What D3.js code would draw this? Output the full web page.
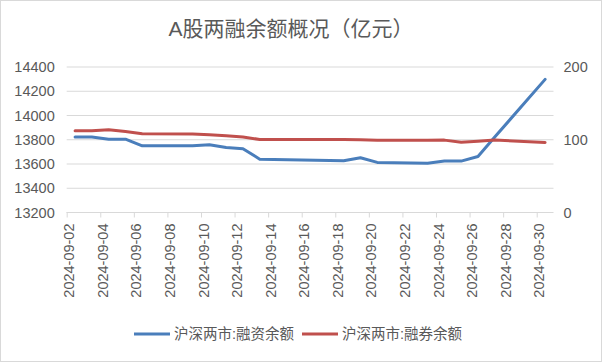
<!DOCTYPE html>
<html>
<head>
<meta charset="utf-8">
<script src="https://cdn.jsdelivr.net/npm/d3@7"></script>
<style>
  html, body { margin: 0; padding: 0; background: #fff; }
  svg { display: block; }
  text { font-family: "Liberation Sans", "Noto Sans CJK SC", sans-serif; fill: #595959; }
</style>
</head>
<body>
<svg id="chart" width="602" height="362"></svg>
<script>
const title = "A股两融余额概况（亿元）";
const dates = ["2024-09-02","2024-09-03","2024-09-04","2024-09-05","2024-09-06",
  "2024-09-09","2024-09-10","2024-09-11","2024-09-12","2024-09-13",
  "2024-09-18","2024-09-19","2024-09-20","2024-09-23","2024-09-24",
  "2024-09-25","2024-09-26","2024-09-27","2024-09-30"];
const financing = [13822,13822,13805,13805,13750,13750,13758,13736,13726,13640,
  13626,13652,13613,13607,13624,13624,13662,13822,14298];
const securities = [112.4,112.4,113.7,111.2,108.3,107.8,106.9,105.5,103.7,100.4,
  100.4,100.0,99.4,99.4,99.5,96.5,98.0,99.6,96.3];
const leftTicks = [13200,13400,13600,13800,14000,14200,14400];
const rightTicks = [0,100,200];
const tickDates = ["2024-09-02","2024-09-04","2024-09-06","2024-09-08","2024-09-10",
  "2024-09-12","2024-09-14","2024-09-16","2024-09-18","2024-09-20","2024-09-22",
  "2024-09-24","2024-09-26","2024-09-28","2024-09-30"];
const seriesNames = ["沪深两市:融资余额","沪深两市:融券余额"];
const colors = ["#4a7ebb","#c0504d"];

const parse = d3.utcParse("%Y-%m-%d");
const svg = d3.select("#chart");

// outer border
svg.append("rect").attr("x",0.5).attr("y",0.5).attr("width",601).attr("height",361)
  .attr("fill","#fff").attr("stroke","#d9d9d9");

const x = d3.scaleUtc()
  .domain([parse("2024-09-02"), parse("2024-10-01")])
  .range([66.7, 553.5]);
const yL = d3.scaleLinear().domain([13200,14400]).range([212.5, 67]);
const yR = d3.scaleLinear().domain([0,200]).range([212.5, 67]);
const halfDay = 12*3600*1000;
const px = d => x(new Date(parse(d).getTime() + halfDay));

// gridlines
svg.append("g").selectAll("line").data(leftTicks.slice(1)).join("line")
  .attr("x1",66.7).attr("x2",553.5)
  .attr("y1",d=>yL(d)).attr("y2",d=>yL(d))
  .attr("stroke","#d9d9d9").attr("stroke-width",1);

// x axis
const xAxis = d3.axisBottom(x)
  .tickValues(tickDates.map(parse))
  .tickSize(5)
  .tickFormat(d3.utcFormat("%Y-%m-%d"));
const gx = svg.append("g").attr("transform","translate(0,212.5)").call(xAxis);
gx.select(".domain").attr("stroke","#d9d9d9").attr("d","M66.7,0.5V0H553.5");
gx.selectAll(".tick line").attr("stroke","#d9d9d9");
gx.selectAll(".tick text")
  .attr("transform","rotate(-90)")
  .attr("text-anchor","end")
  .attr("x",-11).attr("y",2).attr("dy","0.35em")
  .style("font-size","14.5px").attr("fill","#595959");
gx.attr("font-family",null).attr("font-size",null);

// left axis
const gl = svg.append("g").attr("transform","translate(66.7,0)")
  .call(d3.axisLeft(yL).tickValues(leftTicks).tickSize(0).tickPadding(12).tickFormat(d3.format("d")));
gl.select(".domain").remove();
gl.selectAll("text").style("font-size","14.5px").attr("fill","#595959");
gl.attr("font-family",null).attr("font-size",null);

// right axis
const gr = svg.append("g").attr("transform","translate(553.5,0)")
  .call(d3.axisRight(yR).tickValues(rightTicks).tickSize(0).tickPadding(10).tickFormat(d3.format("d")));
gr.select(".domain").remove();
gr.selectAll("text").style("font-size","14.5px").attr("fill","#595959");
gr.attr("font-family",null).attr("font-size",null);

// lines
const lineL = d3.line().x((d,i)=>px(dates[i])).y(d=>yL(d));
const lineR = d3.line().x((d,i)=>px(dates[i])).y(d=>yR(d));
svg.append("path").datum(financing).attr("d",lineL)
  .attr("fill","none").attr("stroke",colors[0]).attr("stroke-width",3)
  .attr("stroke-linejoin","round").attr("stroke-linecap","round");
svg.append("path").datum(securities).attr("d",lineR)
  .attr("fill","none").attr("stroke",colors[1]).attr("stroke-width",3)
  .attr("stroke-linejoin","round").attr("stroke-linecap","round");

// title
svg.append("text").attr("x",291).attr("y",36).attr("text-anchor","middle")
  .style("font-size","21px").text(title);

// legend
const legendItems = [{x:134, name:seriesNames[0], c:colors[0]},{x:302, name:seriesNames[1], c:colors[1]}];
const lg = svg.append("g");
legendItems.forEach(it=>{
  lg.append("line").attr("x1",it.x).attr("x2",it.x+36).attr("y1",334).attr("y2",334)
    .attr("stroke",it.c).attr("stroke-width",3);
  lg.append("text").attr("x",it.x+40).attr("y",334).attr("dy","0.35em")
    .style("font-size","14.5px").text(it.name);
});
</script>
</body>
</html>
